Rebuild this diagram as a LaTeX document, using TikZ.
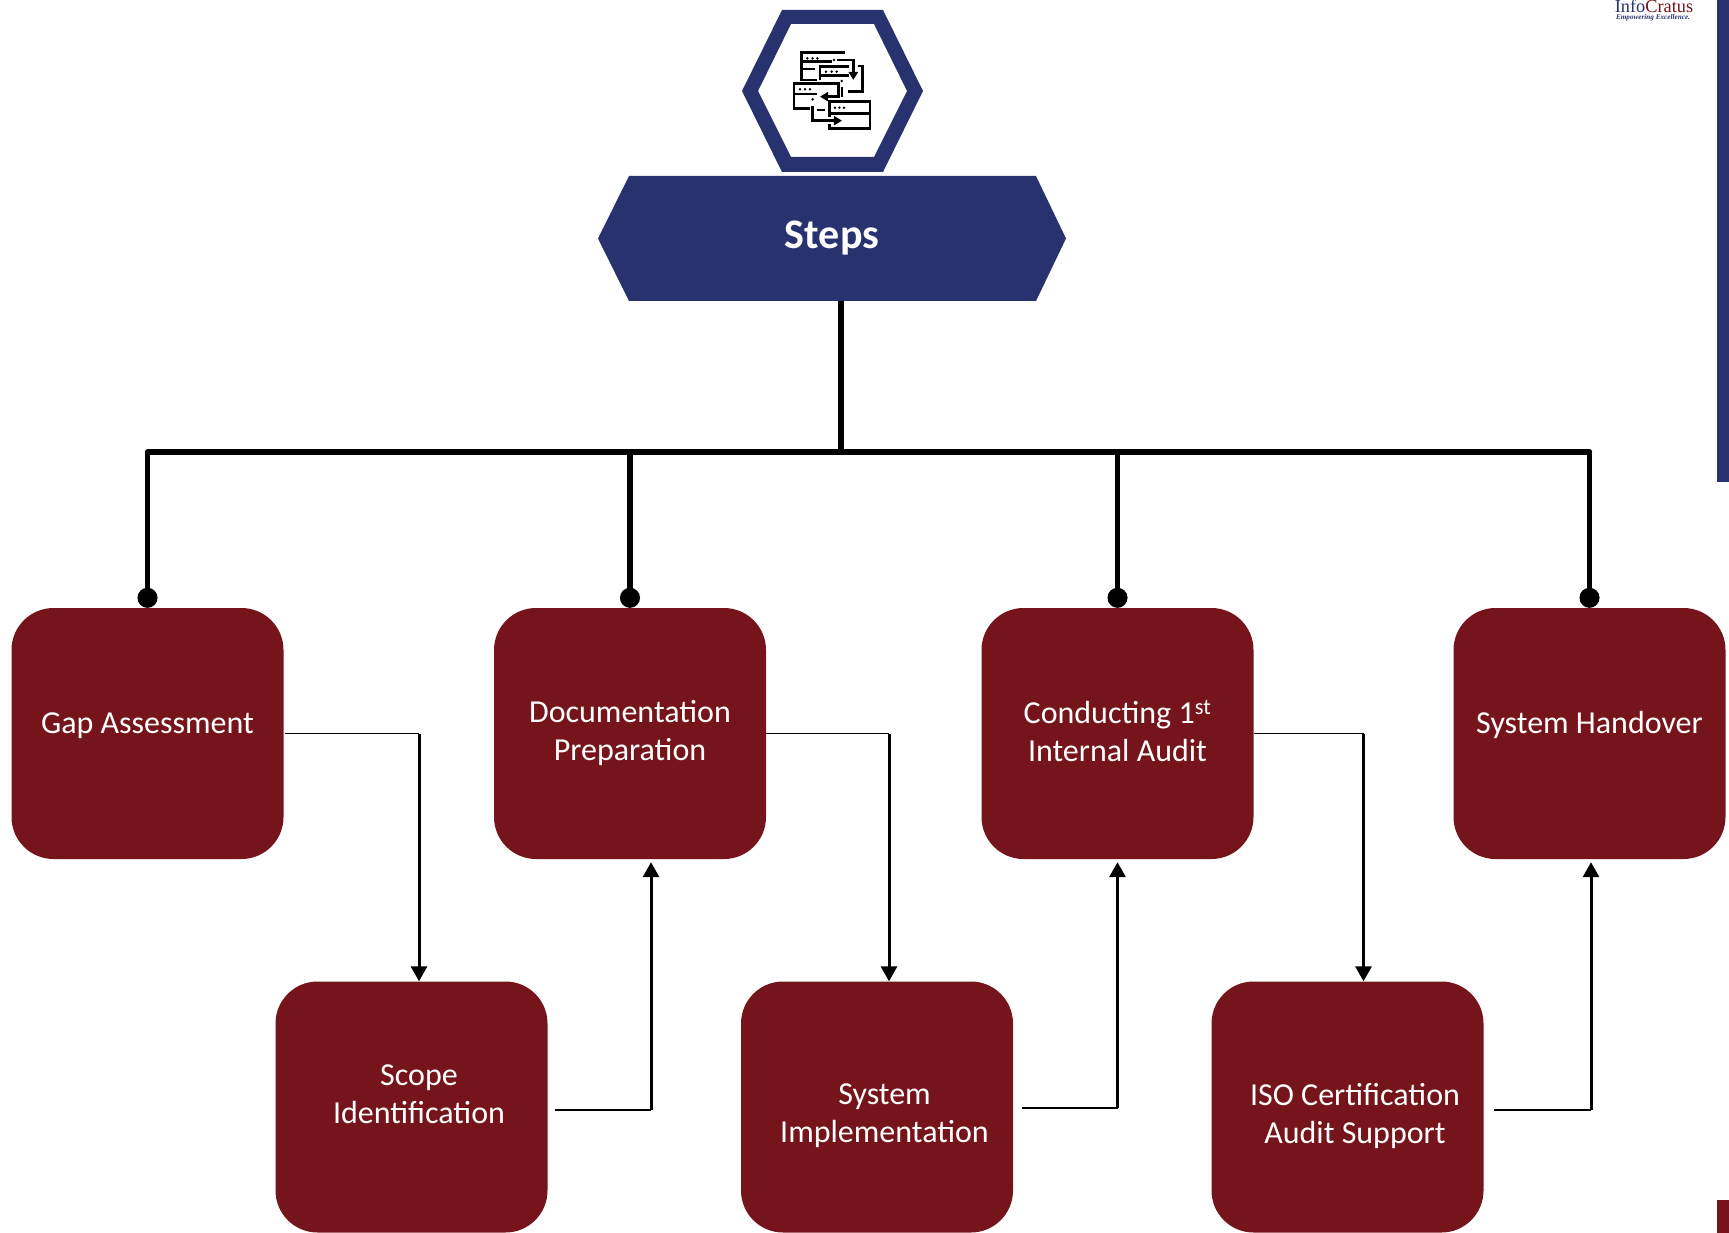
\documentclass[tikz,border=0pt]{standalone}
\usepackage{fontspec}
\setmainfont{Carlito}
\newfontfamily\logofont{Liberation Serif}
\usetikzlibrary{arrows.meta}

\definecolor{navy}{HTML}{28326F}
\definecolor{maroon}{HTML}{76141B}

\tikzset{
  stepbox/.style={fill=maroon, rounded corners=42pt, minimum width=272pt, minimum height=251pt, inner sep=0pt},
  steptext/.style={text=white, align=center, font=\fontsize{32}{38}\selectfont},
  stem/.style={line width=5.3pt, -{Circle[length=20pt,width=20pt]}},
  bar/.style={line width=5.3pt, line cap=round},
  hop/.style={line width=1.5pt},
  flow/.style={line width=3pt, -{Triangle[length=15pt,width=16pt]}},
  icon/.style={line width=2.6pt}
}

\begin{document}
\begin{tikzpicture}[x=1pt,y=-1pt]

    % Fix the page to the size of the reference
    \useasboundingbox (0,0) rectangle (1729,1233);

    % Bars on the right edge
    \fill[navy] (1717,0) rectangle (1729,482);
    \fill[maroon] (1717,1200) rectangle (1729,1233);

    % Logo in the top right corner
    \node[anchor=base, inner sep=0pt, font=\logofont\fontsize{18.3}{18}\selectfont] (logo) at (1654,13) {\textcolor{navy}{Info}\textcolor{maroon}{Cratus}};
    \node[anchor=base, inner sep=0pt, text=navy, font=\logofont\bfseries\itshape\fontsize{7.2}{8}\selectfont] (slogan) at (1653,20) {Empowering Excellence.};

    % Outer hexagon with the white hole
    \fill[navy, even odd rule] (782,10) -- (883,10) -- (923,91) -- (883,172) -- (782,172) -- (742,91) -- cycle
        (791,24) -- (874,24) -- (907,91) -- (874,157) -- (791,157) -- (758,91) -- cycle;

    % Icon inside the hexagon, four windows and their arrows
    \begin{scope}[shift={(720,0)}, x=0.3333pt, y=-0.3333pt]
        % First window
        \draw[icon] (375,158) -- (245,158) -- (245,240) -- (290,240);
        \draw[icon] (245,185) -- (335,185);
        \draw[icon] (245,207) -- (285,207);
        \draw[icon, -{Triangle[length=8pt,width=9pt]}] (352,180) -- (400,180) -- (400,240);
        % Second window
        \draw[icon] (300,240) -- (300,200) -- (388,200);
        \draw[icon] (300,226) -- (388,226);
        \draw[icon] (415,198) -- (428,198) -- (428,275) -- (385,275);
        % Third window
        \draw[icon] (360,250) -- (222,250) -- (222,325) -- (270,325);
        \draw[icon] (222,282) -- (290,282);
        \draw[icon, -{Triangle[length=8pt,width=9pt]}] (355,255) -- (355,290) -- (300,290);
        \draw[icon] (366,260) -- (366,292);
        % Fourth window
        \draw[icon] (328,350) -- (328,305) -- (450,305) -- (450,385) -- (328,385) -- (328,372);
        \draw[icon] (328,340) -- (450,340);
        \draw[icon] (290,330) -- (315,330);
        \draw[icon, -{Triangle[length=8pt,width=9pt]}] (278,318) -- (278,362) -- (366,362);
        % Small dots of the title bars
        \foreach \px/\py in {262/175,278/175,292/175,342/180,318/215,335/215,350/215,240/268,255/268,270/268,345/323,358/323,372/323,365/243,278/298} {
            \fill (\px,\py) circle (1.4pt);
        }
    \end{scope}

    % Banner with the title
    \fill[navy] (598,238.5) -- (629,176) -- (1036,176) -- (1066,238.5) -- (1036,301) -- (629,301) -- cycle;
    \node[text=white, minimum height=125pt, inner sep=0pt, font=\bfseries\fontsize{42}{46}\selectfont] (steps) at (832,238.5) {Steps};

    % The upper row of boxes
    \node[stepbox, steptext] (gap) at (147.5,733.5) {\smash{Gap Assessment}};
    \node[stepbox, steptext] (doc) at (630,733.5) {Documentation\\Preparation};
    \node[stepbox, steptext] (audit) at (1117.5,733.5) {Conducting 1\smash{\textsuperscript{st}}\\Internal Audit\vphantom{p}};
    \node[stepbox, steptext] (handover) at (1589.5,733.5) {\smash{System Handover}};

    % The lower row of boxes, the text sits off centre here
    \node[stepbox] (scope) at (411.5,1107) {};
    \node[stepbox] (impl) at (877,1107) {};
    \node[stepbox] (iso) at (1347.5,1107) {};
    \node[steptext] (scopetext) at (419,1094) {Scope\\Identification};
    \node[steptext] (impltext) at (884.5,1116) {System\\Implementation};
    \node[steptext] (isotext) at (1355,1116) {ISO Certification\\Audit Support};

    % Trunk and bar below the banner
    \coordinate (split) at (841,452);
    \draw[line width=5.3pt] (steps.south -| split) -- (split);
    \draw[bar] (gap.north |- split) -- (handover.north |- split);

    % Drops from the bar to the upper row
    \draw[stem] (gap.north |- split) -- (gap.north);
    \draw[stem] (doc.north |- split) -- (doc.north);
    \draw[stem] (audit.north |- split) -- (audit.north);
    \draw[stem] (handover.north |- split) -- (handover.north);

    % Starts and ends of the arrows between the rows
    \coordinate (gapout) at ([xshift=1pt]gap.east);
    \coordinate (scopein) at ([xshift=7.5pt]scope.north);
    \coordinate (scopeout) at ([xshift=7pt,yshift=-3pt]scope.east);
    \coordinate (docin) at ([xshift=21pt,yshift=-3pt]doc.south);
    \coordinate (docout) at (doc.east);
    \coordinate (implin) at ([xshift=12pt]impl.north);
    \coordinate (implout) at ([xshift=9pt,yshift=-1pt]impl.east);
    \coordinate (auditin) at ([yshift=-3pt]audit.south);
    \coordinate (auditout) at (audit.east);
    \coordinate (isoin) at ([xshift=16pt]iso.north);
    \coordinate (isoout) at ([xshift=10pt,yshift=-3pt]iso.east);
    \coordinate (handoverin) at ([xshift=1.5pt,yshift=-3pt]handover.south);

    % Thin flat part of each arrow, then the thicker upright part
    \draw[hop] (gapout) -- (gapout -| scopein);
    \draw[flow] (gapout -| scopein) -- (scopein);
    \draw[hop] (scopeout) -- (scopeout -| docin);
    \draw[flow] (scopeout -| docin) -- (docin);
    \draw[hop] (docout) -- (docout -| implin);
    \draw[flow] (docout -| implin) -- (implin);
    \draw[hop] (implout) -- (implout -| auditin);
    \draw[flow] (implout -| auditin) -- (auditin);
    \draw[hop] (auditout) -- (auditout -| isoin);
    \draw[flow] (auditout -| isoin) -- (isoin);
    \draw[hop] (isoout) -- (isoout -| handoverin);
    \draw[flow] (isoout -| handoverin) -- (handoverin);

\end{tikzpicture}
\end{document}
